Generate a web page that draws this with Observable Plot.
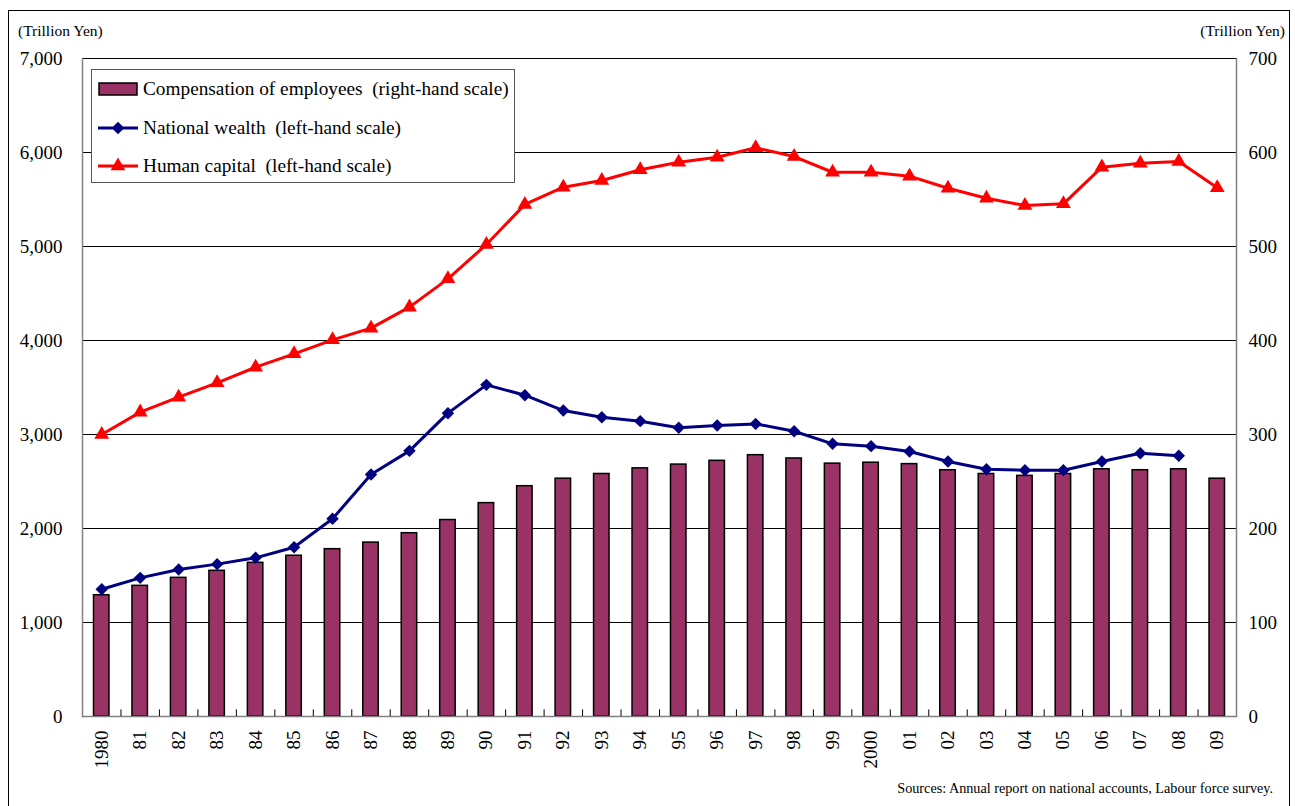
<!DOCTYPE html>
<html>
<head>
<meta charset="utf-8">
<script src="https://cdn.jsdelivr.net/npm/d3@7"></script>
<script src="https://cdn.jsdelivr.net/npm/@observablehq/plot@0.6"></script>
<style>
  html, body { margin: 0; padding: 0; background: #fff; }
  #wrap { position: relative; width: 1295px; height: 806px; overflow: hidden; font-family: "Liberation Serif", "Times New Roman", serif; color: #000; }
  #frame { position: absolute; left: 8px; top: 10px; width: 1282px; height: 830px; border: 1.5px solid #000; box-sizing: border-box; }
  #chart { position: absolute; left: 0; top: 0; }
  .unit { position: absolute; top: 22px; font-size: 15.5px; white-space: nowrap; }
  #legend { position: absolute; left: 91px; top: 69px; width: 424px; height: 114px; border: 1px solid #555; background: #fff; box-sizing: border-box; }
  .item { position: absolute; left: 0; height: 20px; display: flex; align-items: center; font-size: 19.3px; white-space: nowrap; }
  .item svg { margin-left: 5px; margin-right: 4px; }
  #source { position: absolute; right: 22px; top: 780px; font-size: 14.2px; white-space: nowrap; }
</style>
</head>
<body>
<div id="wrap">
  <div id="frame"></div>
  <div id="chart"></div>
  <div class="unit" style="left:18px">(Trillion Yen)</div>
  <div class="unit" style="right:10px">(Trillion Yen)</div>
  <div id="legend"></div>
  <div id="source">Sources: Annual report on national accounts, Labour force survey.</div>
</div>
<script>
// Years and their axis labels
const years = ["1980","1981","1982","1983","1984","1985","1986","1987","1988","1989",
               "1990","1991","1992","1993","1994","1995","1996","1997","1998","1999",
               "2000","2001","2002","2003","2004","2005","2006","2007","2008","2009"];
const yearLabels = ["1980","81","82","83","84","85","86","87","88","89",
                    "90","91","92","93","94","95","96","97","98","99",
                    "2000","01","02","03","04","05","06","07","08","09"];

// Compensation of employees, trillion yen (right-hand scale)
const compensation = [129, 139, 147.5, 155, 163.5, 171, 178, 185, 195, 209,
                      227, 245, 253, 258, 264, 268, 272, 278, 274.5, 269,
                      270, 268.5, 262, 258, 256, 258, 263, 262, 263, 253];

// National wealth, trillion yen (left-hand scale); no figure for 2009
const nationalWealth = [1354, 1475, 1564, 1621, 1688, 1801, 2103, 2574, 2826, 3227,
                        3528, 3418, 3255, 3184, 3142, 3071, 3096, 3113, 3035, 2901,
                        2876, 2819, 2713, 2631, 2620, 2620, 2713, 2801, 2773, null];

// Human capital, trillion yen (left-hand scale)
const humanCapital = [3000, 3238, 3397, 3550, 3716, 3858, 4007, 4131, 4355, 4656,
                      5021, 5447, 5631, 5702, 5816, 5897, 5950, 6050, 5957, 5790,
                      5790, 5748, 5620, 5514, 5436, 5454, 5844, 5886, 5904, 5624];

// Axis ticks
const leftTicks = [0, 1000, 2000, 3000, 4000, 5000, 6000, 7000];
const rightTicks = [0, 100, 200, 300, 400, 500, 600, 700];
const rightFactor = 10; // right-hand scale is one tenth of the left-hand scale

const colors = { comp: "#993366", wealth: "#000080", human: "#ff0000" };
const markerR = { wealth: 5.6, human: 5.5 };

const rows = years.map((year, i) => ({
  year,
  comp: compensation[i],
  wealth: nationalWealth[i],
  human: humanCapital[i]
}));
const labelOf = Object.fromEntries(years.map((y, i) => [y, yearLabels[i]]));

const W = 1295, H = 806;
const mL = 82, mR = 59, mT = 58, mB = 90;
const step = (W - mL - mR) / years.length;

const chart = Plot.plot({
  width: W,
  height: H,
  marginLeft: mL,
  marginRight: mR,
  marginTop: mT,
  marginBottom: mB,
  style: { fontFamily: "'Liberation Serif', 'Times New Roman', serif", fontSize: "19px", background: "transparent", color: "#000" },
  x: { type: "band", domain: years, padding: 0, round: false, label: null },
  y: { domain: [0, 7000], label: null },
  marks: [
    // horizontal gridlines
    Plot.ruleY(leftTicks.slice(1), { stroke: "#000", strokeWidth: 1 }),
    // bars on the right-hand scale
    Plot.barY(rows, {
      x: "year",
      y: d => d.comp * rightFactor,
      fill: colors.comp,
      stroke: "#000",
      strokeWidth: 1.5,
      insetLeft: 11.5,
      insetRight: 11.5
    }),
    // axis lines
    Plot.ruleY([0], { stroke: "#808080", strokeWidth: 1.5 }),
    Plot.frame({ anchor: "left", stroke: "#808080", strokeWidth: 1.5 }),
    Plot.frame({ anchor: "right", stroke: "#808080", strokeWidth: 1.5 }),
    // small category separators on the x axis
    Plot.ruleX(years.slice(1), { x: d => d, dx: -step / 2, y1: 0, y2: 70, stroke: "#000", strokeWidth: 1 }),
    // National wealth
    Plot.line(rows.filter(d => d.wealth != null), { x: "year", y: "wealth", stroke: colors.wealth, strokeWidth: 3 }),
    Plot.dot(rows.filter(d => d.wealth != null), { x: "year", y: "wealth", symbol: "diamond2", r: markerR.wealth, fill: colors.wealth, stroke: "none" }),
    // Human capital
    Plot.line(rows, { x: "year", y: "human", stroke: colors.human, strokeWidth: 3 }),
    Plot.dot(rows, { x: "year", y: "human", symbol: "triangle", r: markerR.human, fill: colors.human, stroke: "none" }),
    // axes
    Plot.axisY({ anchor: "left", ticks: leftTicks, tickSize: 0, tickPadding: 20, tickFormat: d3.format(","), label: null }),
    Plot.axisY({ anchor: "right", ticks: rightTicks.map(v => v * rightFactor), tickSize: 0, tickPadding: 12, tickFormat: d => d3.format(",")(d / rightFactor), label: null }),
    Plot.axisX({ tickSize: 0, tickPadding: 14, tickRotate: -90, tickFormat: d => labelOf[d], label: null })
  ]
});
document.getElementById("chart").appendChild(chart);

// Legend
const legendItems = [
  { key: "comp", text: "Compensation of employees\u00a0\u00a0(right-hand scale)" },
  { key: "wealth", text: "National wealth\u00a0\u00a0(left-hand scale)" },
  { key: "human", text: "Human capital\u00a0\u00a0(left-hand scale)" }
];
const legend = d3.select("#legend");
legendItems.forEach((item, i) => {
  const row = legend.append("div").attr("class", "item").style("top", `${9 + i * 38.5}px`);
  const svg = row.append("svg").attr("width", 42).attr("height", 20);
  if (item.key === "comp") {
    svg.append("rect").attr("x", 2).attr("y", 4).attr("width", 38).attr("height", 12)
      .attr("fill", colors.comp).attr("stroke", "#000").attr("stroke-width", 1.5);
  } else {
    svg.append("line").attr("x1", 1).attr("x2", 41).attr("y1", 10).attr("y2", 10)
      .attr("stroke", colors[item.key]).attr("stroke-width", 3);
    const sym = item.key === "wealth" ? d3.symbolDiamond2 : d3.symbolTriangle;
    const r = markerR[item.key];
    svg.append("path").attr("d", d3.symbol(sym, Math.PI * r * r)()).attr("transform", "translate(21,10)")
      .attr("fill", colors[item.key]);
  }
  row.append("span").text(item.text);
});
</script>
</body>
</html>
